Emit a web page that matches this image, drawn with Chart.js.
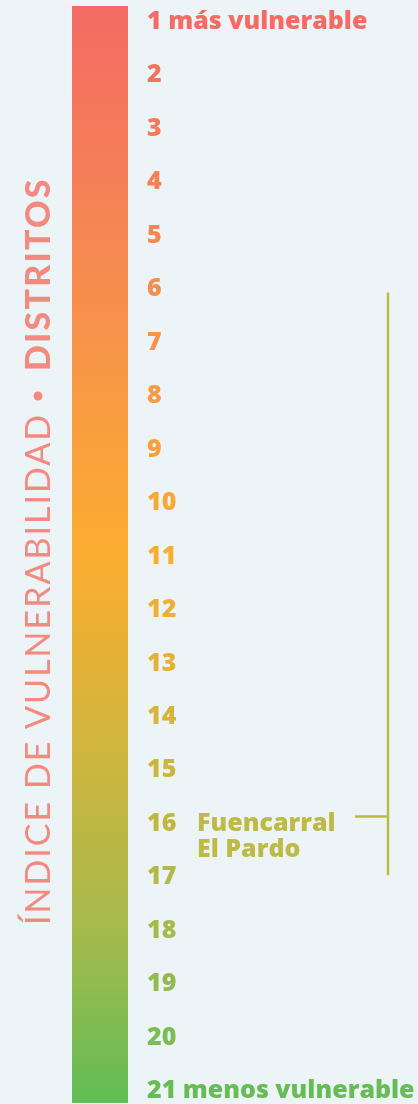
<!DOCTYPE html>
<html>
<head>
<meta charset="utf-8">
<script src="https://cdn.jsdelivr.net/npm/chart.js@4/dist/chart.umd.min.js"></script>
<style>
  html, body { margin: 0; padding: 0; background: #EDF4F8; }
  #wrap { width: 418px; height: 1104px; }
</style>
</head>
<body>
<div id="wrap"><canvas id="grafico" width="418" height="1104"></canvas></div>
<script>
// rangos del indice (1 = mas vulnerable)
const rangos = [1, 2, 3, 4, 5, 6, 7, 8, 9, 10, 11, 12, 13, 14, 15, 16, 17, 18, 19, 20, 21];
const etiquetasRango = ['1 más vulnerable', '2', '3', '4', '5', '6', '7', '8', '9', '10',
  '11', '12', '13', '14', '15', '16', '17', '18', '19', '20', '21 menos vulnerable'];

// distrito marcado: posicion y rango de sus barrios
const distritoNombre = ['Fuencarral', 'El Pardo'];
const distritoValor = 15.9;
const distritoRango = [6.1, 17];

const tituloLigero = 'ÍNDICE DE VULNERABILIDAD';
const tituloFuerte = 'DISTRITOS';

// colores del degradado, de arriba a abajo
const paradas = [
  [0, '#F46A64'],
  [0.25, '#F68D50'],
  [0.5, '#FBAD30'],
  [0.645, '#D8B43B'],
  [0.84, '#A6BA4C'],
  [1, '#62BD56']
];

const margen = 0.26;
const fuente = '"Open Sans"';

function hexToRgb(h) {
  return [parseInt(h.substr(1, 2), 16), parseInt(h.substr(3, 2), 16), parseInt(h.substr(5, 2), 16)];
}

function colorEn(t) {
  t = Math.max(0, Math.min(1, t));
  for (let i = 1; i < paradas.length; i++) {
    if (t <= paradas[i][0]) {
      let a = paradas[i - 1], b = paradas[i];
      let f = (t - a[0]) / (b[0] - a[0]);
      let ca = hexToRgb(a[1]), cb = hexToRgb(b[1]);
      let c = ca.map((v, k) => Math.round(v + (cb[k] - v) * f));
      return 'rgb(' + c.join(',') + ')';
    }
  }
  return paradas[paradas.length - 1][1];
}

function colorValor(chart, valor) {
  let area = chart.chartArea;
  let py = chart.scales.y.getPixelForValue(valor);
  return colorEn((py - area.top) / (area.bottom - area.top));
}

const pluginTextos = {
  id: 'textos',
  afterDraw(chart) {
    const ctx = chart.ctx;
    const y = chart.scales.y;

    // titulo vertical
    ctx.save();
    ctx.translate(50, 925);
    ctx.rotate(-Math.PI / 2);
    ctx.fillStyle = '#F28A80';
    ctx.textBaseline = 'alphabetic';
    ctx.textAlign = 'left';
    ctx.letterSpacing = '2px';
    ctx.font = '400 34px Lato';
    ctx.fillText(tituloLigero, 0, 0);
    let w = ctx.measureText(tituloLigero).width;
    ctx.beginPath();
    ctx.arc(w + 17, -12, 4.5, 0, Math.PI * 2);
    ctx.fill();
    ctx.letterSpacing = '2.2px';
    ctx.font = '900 34px Lato';
    ctx.fillText(tituloFuerte, w + 42, 0);
    ctx.restore();

    // corchete del distrito
    let color = '#BDBB45';
    let yTop = y.getPixelForValue(distritoRango[0]);
    let yBot = y.getPixelForValue(distritoRango[1]);
    let yVal = y.getPixelForValue(distritoValor);
    ctx.save();
    ctx.strokeStyle = color;
    ctx.lineWidth = 2.5;
    ctx.beginPath();
    ctx.moveTo(388, yTop);
    ctx.lineTo(388, yBot);
    ctx.moveTo(355, yVal);
    ctx.lineTo(388, yVal);
    ctx.stroke();

    ctx.fillStyle = color;
    ctx.font = '800 25px ' + fuente;
    ctx.textBaseline = 'middle';
    ctx.textAlign = 'left';
    let yEt = y.getPixelForValue(16) + 2;
    distritoNombre.forEach((t, i) => ctx.fillText(t, 197, yEt + i * 26));
    ctx.restore();
  }
};

new Chart(document.getElementById('grafico'), {
  type: 'bar',
  data: {
    labels: ['indice'],
    datasets: [{
      data: [[rangos[0] - margen, rangos[rangos.length - 1] + margen]],
      backgroundColor: function (c) {
        let area = c.chart.chartArea;
        if (!area) return paradas[0][1];
        let g = c.chart.ctx.createLinearGradient(0, area.top, 0, area.bottom);
        paradas.forEach(p => g.addColorStop(p[0], p[1]));
        return g;
      },
      borderWidth: 0,
      barPercentage: 1,
      categoryPercentage: 1
    }]
  },
  options: {
    responsive: false,
    devicePixelRatio: 1,
    animation: false,
    layout: { padding: { left: 72, top: 6, bottom: 1, right: 0 } },
    plugins: { legend: { display: false }, tooltip: { enabled: false } },
    scales: {
      x: { display: false },
      y: {
        position: 'right',
        reverse: true,
        min: rangos[0] - margen,
        max: rangos[rangos.length - 1] + margen,
        afterBuildTicks: s => { s.ticks = rangos.map(v => ({ value: v })); },
        afterFit: s => { s.width = 290; s.paddingTop = 0; s.paddingBottom = 0; },
        grid: { display: false, drawTicks: false },
        border: { display: false },
        ticks: {
          padding: 19,
          labelOffset: 2,
          autoSkip: false,
          font: { family: fuente, weight: 800, size: 25 },
          color: c => colorValor(c.chart, c.tick.value),
          callback: (v) => etiquetasRango[rangos.indexOf(v)]
        }
      }
    }
  },
  plugins: [pluginTextos]
});
</script>
</body>
</html>
